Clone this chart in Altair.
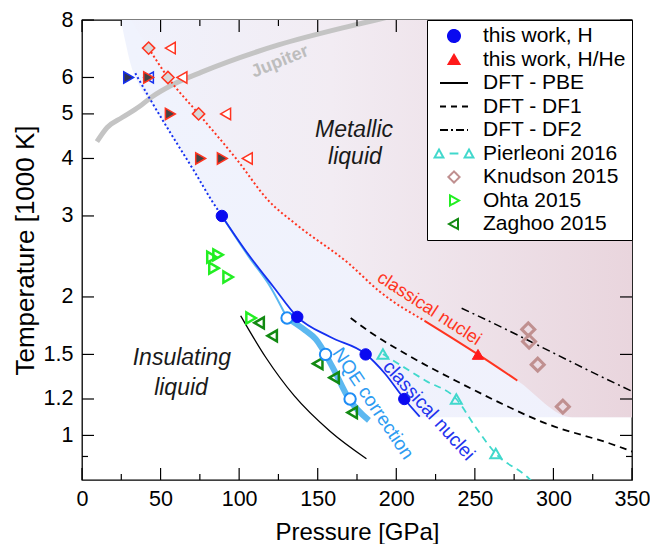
import altair as alt
import pandas as pd

FONT = "Liberation Sans"

# ---------------- axis ticks ----------------
x_major = [0, 50, 100, 150, 200, 250, 300, 350]
x_minor = [25, 75, 125, 175, 225, 275, 325]
y_major = [1, 1.2, 1.5, 2, 3, 4, 5, 6, 8]
y_minor = [0.9]

# ---------------- this work ----------------
h_P = [89, 137, 180.5, 205.1]
h_T = [3.0, 1.81, 1.50, 1.20]
hhe_P = [252]
hhe_T = [1.50]

blue_dot_P = [33.9, 43.5, 56.2, 72.1, 82.8, 89]
blue_dot_T = [6.13, 5.37, 4.55, 3.72, 3.23, 3.0]
blue_sol_P = [89, 106, 122, 137, 158, 180.5, 193, 205.1, 214.9]
blue_sol_T = [3.0, 2.47, 2.10, 1.81, 1.636, 1.503, 1.36, 1.20, 1.099]

red_dot_P = [42.4, 54.7, 74.2, 98, 119, 136, 170, 189, 218]
red_dot_T = [6.95, 6.0, 5.0, 4.0, 3.23, 2.88, 2.36, 2.06, 1.775]
red_sol_P = [218, 252, 277]
red_sol_T = [1.775, 1.50, 1.316]

nqe_thin_P = [89, 106, 120, 130.5]
nqe_thin_T = [3.0, 2.45, 2.10, 1.80]
nqe_P = [130.5, 142.3, 148.7, 159.3, 169.9, 182.6]
nqe_T = [1.80, 1.69, 1.62, 1.41, 1.20, 1.078]
nqe_pts_P = [130.5, 155, 170.6]
nqe_pts_T = [1.80, 1.50, 1.20]

# extra simulation markers (top left)
dia_P = [42.4, 54.7, 74.2]
dia_T = [6.95, 6.0, 5.0]
ltri_P = [56.2, 63.6, 91.4, 105.2]
ltri_T = [6.95, 6.0, 5.0, 4.0]
dtri_P = [42.4, 56.2, 75.5, 89.3]
dtri_T = [6.0, 5.0, 4.0, 4.0]
btri_P = [29.7]
btri_T = [6.0]
bltri_P = [42.4]
bltri_T = [6.0]

# ---------------- other works ----------------
pbe_P = [101, 117, 135, 158, 181]
pbe_T = [1.82, 1.477, 1.22, 1.02, 0.89]
df1_P = [171, 183.7, 208, 237.8, 265.4, 293, 339.6, 351]
df1_T = [1.80, 1.674, 1.49, 1.315, 1.18, 1.069, 0.951, 0.92]
df2_P = [241.6, 267.5, 293, 322.6, 351.3]
df2_T = [1.89, 1.716, 1.553, 1.383, 1.241]
pier_line_P = [191.5, 218.7, 238.2, 250.5, 263.3, 283.4, 287]
pier_line_T = [1.503, 1.315, 1.20, 1.042, 0.913, 0.812, 0.79]
pier_P = [191.5, 238.2, 263.3]
pier_T = [1.503, 1.20, 0.913]
knud_P = [284, 284.5, 290, 306]
knud_T = [1.70, 1.60, 1.425, 1.155]
ohta_P = [82.7, 86.6, 84, 93, 107.6]
ohta_T = [2.44, 2.47, 2.31, 2.21, 1.80]
zag_P = [112.7, 121, 150, 160.4, 171.9]
zag_T = [1.757, 1.646, 1.432, 1.335, 1.121]
jup_P = [9.5, 16, 25.5, 36.3, 44.6, 57.3, 76.4, 125, 168, 187, 200]
jup_T = [4.35, 4.67, 4.91, 5.18, 5.45, 5.78, 6.17, 7.06, 7.72, 8.0, 8.2]

# shaded regions
regA_P = [24.8, 27.5, 31, 36, 43.5, 56.2, 72.1, 82.8, 89, 106, 122, 137,
          158, 180.5, 193, 205.1, 214.9, 350]
regA_T = [8.0, 7.2, 6.4, 5.8, 5.3, 4.55, 3.72, 3.23, 3.0, 2.47, 2.10, 1.81,
          1.636, 1.503, 1.36, 1.20, 1.095, 1.095]
regB_P = [31, 42.4, 54.7, 74.2, 98, 119, 136, 170, 189, 218, 252, 277, 312, 350]
regB_T = [8.0, 6.95, 6.0, 5.0, 4.0, 3.23, 2.88, 2.36, 2.06, 1.775, 1.50, 1.316, 1.095, 1.095]

# annotations
ann_jup = ("Jupiter", 126, 6.49)
ann_met = [("Metallic", 173.1, 4.62), ("liquid", 173.7, 4.03)]
ann_ins = [("Insulating", 63.6, 1.475), ("liquid", 63, 1.27)]
ann_red = ("classical nuclei", 220.8, 1.884)
ann_blue = ("classical nuclei", 220.8, 1.133)
ann_nqe = ("NQE correction", 185.2, 1.173)

# legend
leg_names = ["this work, H", "this work, H/He", "DFT - PBE", "DFT - DF1", "DFT - DF2",
             "Pierleoni 2016", "Knudson 2015", "Ohta 2015", "Zaghoo 2015"]

# ---------------- styling ----------------
W, H = 550, 460
BLUE = "#1530f0"
BLUE_PT = "#0a0af0"
RED = "#ff3420"
NQE = "#2e9cf2"
NQE_THICK = "#5cb8f0"
TURQ = "#40d8cc"
KNUD = "#c09090"
OHTA = "#22ee22"
ZAG = "#128a12"

xs = alt.Scale(domain=[0, 350], nice=False, zero=False)
ys = alt.Scale(type="log", domain=[0.8, 8], nice=False)

xaxis = alt.Axis(values=x_major, title="Pressure [GPa]", format="d", ticks=False,
                 domain=False, grid=False, labelFontSize=21.5, labelPadding=8,
                 labelFlush=False, labelOverlap=False, titleFontSize=24, titlePadding=11,
                 labelColor="black", titleColor="black", labelFont=FONT, titleFont=FONT,
                 titleFontWeight="normal")
yaxis = alt.Axis(values=y_major, title="Temperature [1000 K]", format="~g", ticks=False,
                 domain=False, grid=False, labelFontSize=21.5, labelPadding=9,
                 labelFlush=False, labelOverlap=False, titleFontSize=26, titlePadding=5,
                 labelColor="black", titleColor="black", labelFont=FONT, titleFont=FONT,
                 titleFontWeight="normal")


def X():
    return alt.X("P:Q", scale=xs, axis=xaxis)


def Y():
    return alt.Y("T:Q", scale=ys, axis=yaxis)


def df(P, T):
    return pd.DataFrame({"P": P, "T": T})


def line(P, T, color, width, dash=None, interp="monotone"):
    kw = dict(color=color, strokeWidth=width, interpolate=interp, clip=True)
    if dash:
        kw["strokeDash"] = dash
    return alt.Chart(df(P, T)).mark_line(**kw).encode(x=X(), y=Y())


def pts(P, T, shape, size, stroke, fill, sw=2):
    return alt.Chart(df(P, T)).mark_point(shape=shape, size=size, stroke=stroke, fill=fill,
                                          filled=True, opacity=1, strokeWidth=sw,
                                          clip=True).encode(x=X(), y=Y())


def text(item, color, size, angle=0, style="normal", weight="normal"):
    t, P, T = item
    d = pd.DataFrame({"P": [P], "T": [T], "t": [t]})
    return alt.Chart(d).mark_text(color=color, fontSize=size, angle=angle, fontStyle=style,
                                  fontWeight=weight, font=FONT, align="center",
                                  baseline="middle").encode(x=X(), y=Y(), text="t:N")


gradA = alt.LinearGradient(gradient="linear", x1=0, y1=0, x2=1, y2=0,
                           stops=[alt.GradientStop(color="#f0f3fd", offset=0),
                                  alt.GradientStop(color="#f0f1fc", offset=1)])
gradB = alt.LinearGradient(gradient="linear", x1=0, y1=0, x2=1, y2=0,
                           stops=[alt.GradientStop(color="#f0f2fc", offset=0),
                                  alt.GradientStop(color="#f2ecf3", offset=0.4),
                                  alt.GradientStop(color="#e9d5dd", offset=1)])

regA = alt.Chart(df(regA_P, regA_T)).mark_area(
    color=gradA, opacity=1, interpolate="monotone", clip=True).encode(
    x=X(), y=Y(), y2=alt.Y2(datum=8))
regB = alt.Chart(df(regB_P, regB_T)).mark_area(
    color=gradB, opacity=1, interpolate="monotone", clip=True).encode(
    x=X(), y=Y(), y2=alt.Y2(datum=8))

layers = [regA, regB]
layers.append(line(jup_P, jup_T, "#c4c4c4", 5))
layers.append(text(ann_jup, "#bdbdbd", 18, angle=338, weight="bold"))
layers.append(line(pbe_P, pbe_T, "black", 1.3))
layers.append(line(df1_P, df1_T, "black", 1.8, dash=[7, 5]))
layers.append(line(df2_P, df2_T, "black", 1.5, dash=[8, 4, 2, 4]))
layers.append(line(pier_line_P, pier_line_T, TURQ, 1.8, dash=[7, 5]))
layers.append(line(red_dot_P, red_dot_T, RED, 2, dash=[2, 2.5]))
layers.append(line(red_sol_P, red_sol_T, RED, 2))
layers.append(line(blue_dot_P, blue_dot_T, BLUE, 2, dash=[2, 2.5]))
layers.append(line(nqe_thin_P, nqe_thin_T, NQE_THICK, 2))
layers.append(line(blue_sol_P, blue_sol_T, BLUE, 1.8))
layers.append(line(nqe_P, nqe_T, NQE_THICK, 6))

# top-left markers
layers.append(pts(bltri_P, bltri_T, "triangle-left", 120, BLUE, "white", 1.5))
layers.append(pts(btri_P, btri_T, "triangle-right", 130, BLUE, "#333355", 1.5))
layers.append(pts(dtri_P, dtri_T, "triangle-right", 130, RED, "#444444", 1.5))
layers.append(pts(dia_P, dia_T, "diamond", 150, RED, "#d8d8d8", 1.5))
layers.append(pts(ltri_P, ltri_T, "triangle-left", 130, RED, "white", 1.5))

layers.append(pts(ohta_P, ohta_T, "triangle-right", 120, OHTA, "transparent", 2.5))
layers.append(pts(zag_P, zag_T, "triangle-left", 120, ZAG, "transparent", 2.5))
layers.append(pts(knud_P, knud_T, "diamond", 170, KNUD, "transparent", 3))
layers.append(pts(pier_P, pier_T, "triangle-up", 120, TURQ, "transparent", 2))
layers.append(pts(nqe_pts_P, nqe_pts_T, "circle", 130, "#1e8cf5", "white", 2))
layers.append(pts(h_P, h_T, "circle", 130, BLUE_PT, BLUE_PT, 1))
layers.append(pts(hhe_P, hhe_T, "triangle-up", 130, "#ff1a1a", "#ff1a1a", 1))

for it in ann_met + ann_ins:
    layers.append(text(it, "#1a1a1a", 23, style="italic"))
layers.append(text(ann_red, RED, 18, angle=33))
layers.append(text(ann_blue, "#2233ee", 19, angle=48))
layers.append(text(ann_nqe, NQE, 19, angle=56))


# inward ticks on all four sides
def xticks(vals, L):
    d = pd.DataFrame({"P": vals})
    b = alt.Chart(d).mark_rule(color="black", strokeWidth=1.2).encode(
        x=X(), y=alt.value(H), y2=alt.value(H - L))
    t = alt.Chart(d).mark_rule(color="black", strokeWidth=1.2).encode(
        x=X(), y=alt.value(0), y2=alt.value(L))
    return [b, t]


def yticks(vals, L):
    d = pd.DataFrame({"T": vals})
    l = alt.Chart(d).mark_rule(color="black", strokeWidth=1.2).encode(
        y=Y(), x=alt.value(0), x2=alt.value(L))
    r = alt.Chart(d).mark_rule(color="black", strokeWidth=1.2).encode(
        y=Y(), x=alt.value(W), x2=alt.value(W - L))
    return [l, r]


layers += xticks(x_major, 12) + xticks(x_minor, 6) + yticks(y_major, 12) + yticks(y_minor, 6)

# legend (symbols defined in a 40px box: 1 unit = 20px)
circ = "M -0.3 0 A 0.3 0.3 0 1 0 0.3 0 A 0.3 0.3 0 1 0 -0.3 0 Z"
tri_up = "M -0.27 0.23 L 0 -0.23 L 0.27 0.23 Z"
stroke_p = "M -0.7 0 L 0.7 0"
pier_p = ("M -0.97 0.2 L -0.75 -0.2 L -0.53 0.2 Z M 0.53 0.2 L 0.75 -0.2 L 0.97 0.2 Z "
          "M -0.22 0 L 0.22 0")
dia_p = "M 0 -0.28 L 0.28 0 L 0 0.28 L -0.28 0 Z"
tri_r = "M -0.2 -0.25 L 0.25 0 L -0.2 0.25 Z"
tri_l = "M 0.2 -0.25 L -0.25 0 L 0.2 0.25 Z"
leg_shapes = [circ, tri_up, stroke_p, stroke_p, stroke_p, pier_p, dia_p, tri_r, tri_l]
leg_stroke = [BLUE_PT, "#ff1a1a", "black", "black", "black", TURQ, KNUD, OHTA, ZAG]
leg_fill = [BLUE_PT, "#ff1a1a", "transparent", "transparent", "transparent", "transparent",
            "transparent", "transparent", "transparent"]
leg_dash = [[1, 0], [1, 0], [1, 0], [6, 5], [8, 3, 2, 3], [1, 0], [1, 0], [1, 0], [1, 0]]

leg = alt.Legend(title=None, orient="top-right", offset=0, padding=6, strokeColor="black",
                 fillColor="white", labelFontSize=21, labelFont=FONT, labelColor="black",
                 clipHeight=20, rowPadding=2.5, labelOffset=8, symbolOffset=0, labelLimit=400,
                 cornerRadius=0, symbolStrokeWidth=2, symbolSize=1600)
leg_df = pd.DataFrame({"name": leg_names, "P": [None] * len(leg_names),
                       "T": [None] * len(leg_names)})
legend_layer = alt.Chart(leg_df).mark_point(filled=True, opacity=1, size=1600, strokeWidth=2).encode(
    x=X(), y=Y(),
    shape=alt.Shape("name:N", scale=alt.Scale(domain=leg_names, range=leg_shapes), legend=leg),
    stroke=alt.Stroke("name:N", scale=alt.Scale(domain=leg_names, range=leg_stroke), legend=leg),
    fill=alt.Fill("name:N", scale=alt.Scale(domain=leg_names, range=leg_fill), legend=leg),
    strokeDash=alt.StrokeDash("name:N", scale=alt.Scale(domain=leg_names, range=leg_dash), legend=leg),
)
layers.append(legend_layer)

chart = alt.layer(*layers).properties(
    width=W, height=H,
    padding={"left": 74, "top": 12, "right": 18, "bottom": 64},
    autosize=alt.AutoSizeParams(type="none"),
    background="white",
).configure_view(stroke="black", strokeWidth=1.3)

chart.save("out.html", embed_options={"renderer": "svg", "actions": False})
